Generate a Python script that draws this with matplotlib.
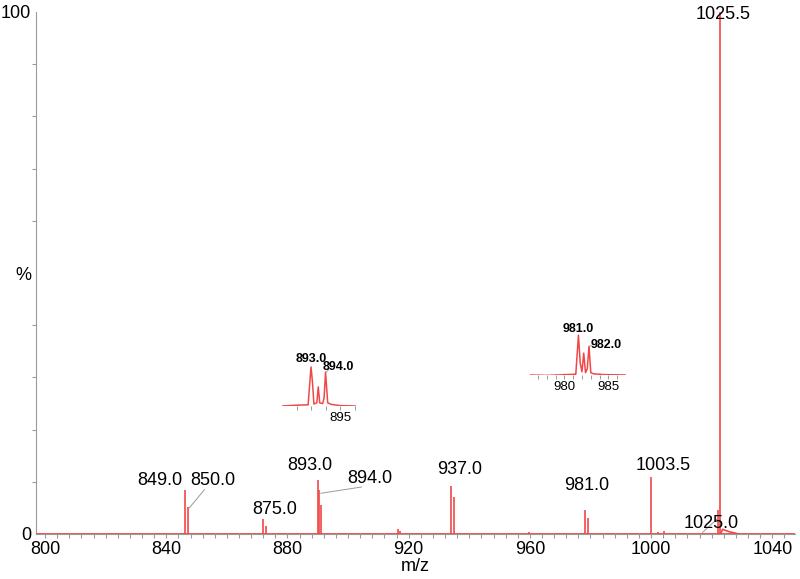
import numpy as np
import matplotlib.pyplot as plt
from matplotlib.ticker import MultipleLocator

plt.rcParams['font.family'] = ['Liberation Sans', 'DejaVu Sans']

# main spectrum: stick peaks (m/z on the plotted axis, relative intensity %)
peak_mz = [846.2, 847.2, 871.9, 872.9, 890.0, 890.5, 890.9, 916.5, 917.1, 934.0, 935.0,
           959.7, 978.2, 979.2, 1000.0, 1002.3, 1004.1, 1022.1, 1022.7]
peak_int = [8.4, 5.2, 2.9, 1.6, 10.3, 8.4, 5.5, 0.9, 0.6, 9.1, 7.1,
            0.3, 4.6, 3.1, 11.0, 0.3, 0.5, 4.6, 100.0]
bump_mz = [1022.9, 1023.6, 1024.5, 1026.0, 1027.5, 1029.0]
bump_int = [0.0, 0.9, 0.7, 0.4, 0.2, 0.0]

# peak labels: text, x, y (text position), anchor for leader line (or None)
labels = [
    ('849.0', 837.9, 10.2, None),
    ('850.0', 855.4, 10.2, (847.6, 5.0)),
    ('875.0', 875.9, 4.6, None),
    ('893.0', 887.4, 13.2, None),
    ('894.0', 907.2, 10.7, (891.0, 7.8)),
    ('937.0', 936.9, 12.3, None),
    ('981.0', 978.8, 9.2, None),
    ('1003.5', 1003.9, 13.2, None),
    ('1025.0', 1019.8, 2.0, (1022.0, 3.0)),
    ('1025.5', 1023.7, 99.5, None),
]

# zoomed insets: profile points
ins1_x = [891.0, 892.0, 892.8, 893.0, 893.1, 893.2, 893.4, 893.5, 893.6, 893.8, 893.9, 894.0, 894.15, 894.4, 895.0, 896.1]
ins1_y = [0, 2, 3, 98, 60, 5, 8, 48, 8, 6, 20, 85, 8, 4, 1, 0]
ins2_x = [976.1, 978.0, 981.3, 981.6, 981.8, 982.0, 982.2, 982.4, 982.6, 982.8, 983.0, 983.3, 984.5, 987.0]
ins2_y = [0, -1, 2, 100, 30, 8, 55, 6, 15, 72, 6, 3, 1, 0]

red = '#f04848'
grey = '#9a9a9a'

fig = plt.figure(figsize=(8, 5.79), dpi=100)
W, H = 800, 579


def px_axes(x0, y0, x1, y1):
    return fig.add_axes([x0 / W, 1 - y1 / H, (x1 - x0) / W, (y1 - y0) / H])


ax = px_axes(36, 12, 795, 534)
ax.vlines(peak_mz, 0, peak_int, color=red, lw=1.2)
ax.plot(bump_mz, bump_int, color=red, lw=1.2)
ax.axhline(0, color=red, lw=1.3, zorder=3)
ax.set_xlim(797, 1047.5)
ax.set_ylim(0, 100)
for s in ['top', 'right']:
    ax.spines[s].set_visible(False)
for s in ['left', 'bottom']:
    ax.spines[s].set_color(grey)
ax.set_xticks([800, 840, 880, 920, 960, 1000, 1040])
ax.xaxis.set_minor_locator(MultipleLocator(4))
ax.set_yticks([0, 50, 100])
ax.set_yticklabels(['0', '%', '100'])
ax.yaxis.set_minor_locator(MultipleLocator(10))
ax.tick_params(axis='both', which='both', colors=grey, labelcolor='black', labelsize=13,
               length=3, width=0.8)
ax.tick_params(axis='y', which='major', length=0, pad=3.5)
ax.tick_params(axis='x', which='major', pad=2)
ax.set_xlabel('m/z', fontsize=13, labelpad=0)

for txt, x, y, anchor in labels:
    ax.text(x, y, txt, fontsize=13, ha='center', va='center', clip_on=False)
    if anchor is not None:
        ax.plot([x - 2.8, anchor[0]], [y - 1.7, anchor[1]], color=grey, lw=0.7)

# inset 1
a1 = px_axes(282, 363, 356, 406)
a1.plot(ins1_x, ins1_y, color=red, lw=1.1)
a1.set_xlim(891.0, 896.1)
a1.set_ylim(0, 108)
a1.set_xticks([892, 893, 894, 895, 896])
a1.set_xticklabels(['', '', '', '895', ''])
a1.text(893.0, 118, '893.0', fontsize=9, fontweight='bold', ha='center', va='center')
a1.text(894.9, 98, '894.0', fontsize=9, fontweight='bold', ha='center', va='center')
a1.plot([894.05, 894.3], [85, 95], color=grey, lw=0.6, clip_on=False)

# inset 2
a2 = px_axes(530, 332, 626, 375)
a2.plot(ins2_x, ins2_y, color=red, lw=1.1)
a2.set_xlim(976.1, 987.0)
a2.set_ylim(0, 108)
a2.set_xticks(list(range(977, 987)))
a2.set_xticklabels(['' if t not in (980, 985) else str(t) for t in range(977, 987)])
a2.text(981.55, 116, '981.0', fontsize=9, fontweight='bold', ha='center', va='center')
a2.text(984.8, 75, '982.0', fontsize=9, fontweight='bold', ha='center', va='center')
a2.plot([982.85, 983.2], [72, 76], color=grey, lw=0.6, clip_on=False)

for a in (a1, a2):
    a.patch.set_alpha(0)
    for s in ['top', 'right', 'left', 'bottom']:
        a.spines[s].set_visible(False)
    a.set_yticks([])
    a.tick_params(axis='x', colors=grey, labelcolor='black', labelsize=9.5, length=3, width=0.7, pad=1)

fig.savefig('out.png', dpi=100)
